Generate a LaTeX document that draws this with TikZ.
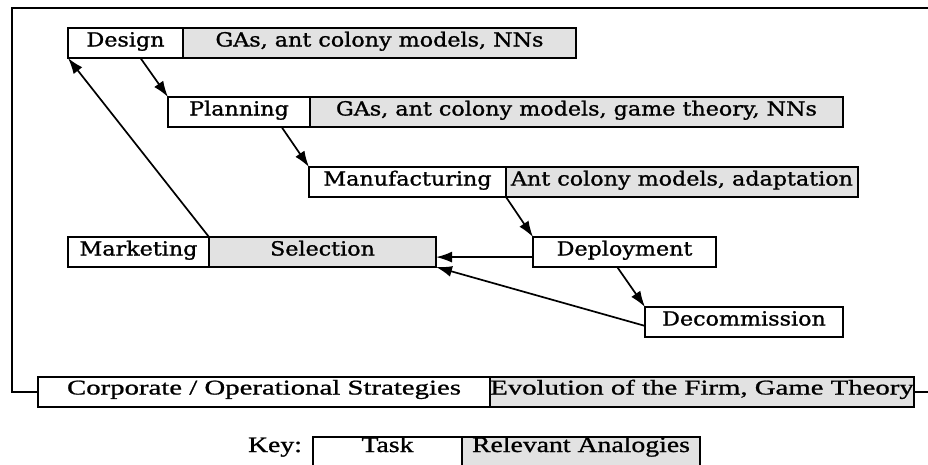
\documentclass[tikz,border=0pt]{standalone}
\usepackage{fontspec}
\usetikzlibrary{arrows.meta,calc}
% wide serif for the process boxes, Times-like serif for the strategy bar and key
\newfontfamily\boxfont[FakeStretch=1.14,FakeBold=1.2]{DejaVu Serif}
\newfontfamily\barfont[FakeStretch=1.37,FakeBold=1.0]{Liberation Serif}
\newfontfamily\keyfont[FakeStretch=1.26,FakeBold=1.0]{Liberation Serif}
\definecolor{analogygray}{RGB}{226,226,226}
\begin{document}
\begin{tikzpicture}[x=1pt,y=-1pt,
  cell/.style={draw=black, line width=1.8pt, inner sep=0pt, outer sep=0pt,
    anchor=north west, minimum height=30pt, text height=12pt, text depth=5pt,
    font=\boxfont\fontsize{19.5}{23}\selectfont},
  taskcell/.style={cell, fill=white},
  analogycell/.style={cell, fill=analogygray},
  barcell/.style={font=\barfont\fontsize{21}{25}\selectfont, text depth=7pt},
  keycell/.style={font=\keyfont\fontsize{22}{26}\selectfont, text height=13pt, text depth=13pt},
  flow/.style={line width=1.7pt, -{Latex[length=16pt,width=11pt]}},
  frameline/.style={line width=1.8pt},
]
\useasboundingbox (0,0) rectangle (928,464);
\fill[white] (0,0) rectangle (928,464);

% process stages: task cell followed by its analogy cell
\node[taskcell, minimum width=115pt] (design) at (68,28) {Design};
\node[analogycell, minimum width=393pt] (designA) at (design.north east) {GAs, ant colony models, NNs};

\node[taskcell, minimum width=142pt] (plan) at (168,97) {Planning};
\node[analogycell, minimum width=533pt] (planA) at (plan.north east) {GAs, ant colony models, game theory, NNs};

\node[taskcell, minimum width=197pt] (manu) at (309,167) {Manufacturing};
\node[analogycell, minimum width=352pt] (manuA) at (manu.north east) {Ant colony models, adaptation};

\node[taskcell, minimum width=183pt] (deploy) at (533,237) {Deployment};

\node[taskcell, minimum width=198pt] (decom) at (645,307) {Decommission};

\node[taskcell, minimum width=141pt] (market) at (68,237) {Marketing};
\node[analogycell, minimum width=227pt] (select) at (market.north east) {Selection};

% strategy bar
\node[taskcell, barcell, minimum width=452pt] (corp) at (38,377) {Corporate / Operational Strategies};
\node[analogycell, barcell, minimum width=424pt] (corpA) at (corp.north east) {Evolution of the Firm, Game Theory};

% outer frame joining the strategy bar
\coordinate (frameL) at (12,8);
\coordinate (frameR) at (940,8);
\draw[frameline] (corp.west) -| (frameL) -- (frameR) |- (corpA.east);

% key
\node[keycell, anchor=base, inner sep=0pt, text height=, text depth=] (keylabel) at (275,452) {Key:};
\node[taskcell, keycell, minimum width=149pt] (keytask) at (313,437) {Task};
\node[analogycell, keycell, minimum width=238pt] (keyanalogy) at (keytask.north east) {Relevant Analogies};

% flow between stages
\draw[flow] ($(design.south west)!0.63!(design.south east)$) -- (plan.north west);
\draw[flow] ($(plan.south west)!0.80!(plan.south east)$) -- (manu.north west);
\draw[flow] (manu.south east) -- (deploy.north west);
\draw[flow] ($(deploy.south west)!0.46!(deploy.south east)$) -- (decom.north west);
\coordinate (dsel) at ($(deploy.north west)!0.67!(deploy.south west)$);
\draw[flow] (dsel) -- (select.east |- dsel);
\draw[flow] ($(decom.north west)!0.63!(decom.south west)$) -- (select.south east);
\draw[flow] (market.north east) -- (design.south west);
\end{tikzpicture}
\end{document}
